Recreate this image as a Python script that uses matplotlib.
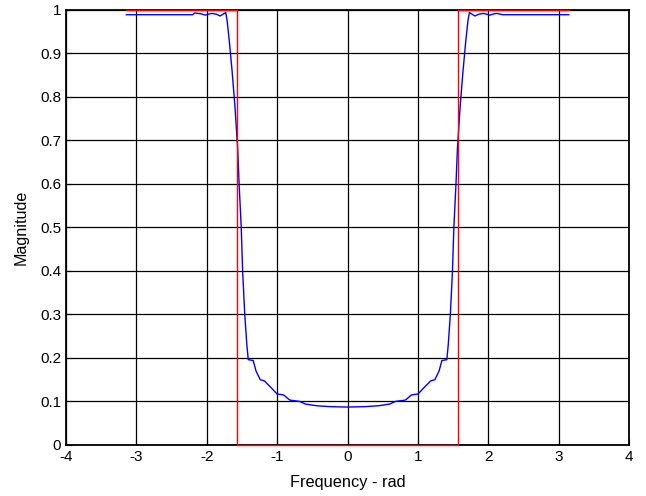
import numpy as np
import matplotlib
matplotlib.use("Agg")
import matplotlib.pyplot as plt

# Magnitude response (rad, magnitude)
freq = [-3.1416, -2.60, -2.20, -2.17, -2.12, -2.08, -2.02, -1.98, -1.93, -1.86,
        -1.81, -1.77, -1.73, -1.71, -1.68, -1.64, -1.60, -1.56, -1.54, -1.51,
        -1.49, -1.46, -1.43, -1.41, -1.34, -1.30, -1.24, -1.18, -1.10, -1.00,
        -0.91, -0.82, -0.68, -0.60, -0.44, -0.25, 0.0,
        0.25, 0.44, 0.60, 0.68, 0.82, 0.91, 1.00, 1.10, 1.18, 1.24, 1.30, 1.34,
        1.41, 1.43, 1.46, 1.49, 1.51, 1.54, 1.56, 1.60, 1.64, 1.68, 1.71, 1.73,
        1.77, 1.81, 1.86, 1.93, 1.98, 2.02, 2.08, 2.12, 2.20, 2.60, 3.1416]
mag = [0.989, 0.989, 0.989, 0.993, 0.992, 0.991, 0.988, 0.990, 0.992, 0.990,
       0.986, 0.990, 0.994, 0.975, 0.930, 0.860, 0.780, 0.680, 0.600, 0.500,
       0.400, 0.300, 0.230, 0.196, 0.194, 0.170, 0.150, 0.147, 0.134, 0.117,
       0.115, 0.103, 0.100, 0.094, 0.090, 0.088, 0.087,
       0.088, 0.090, 0.094, 0.100, 0.103, 0.115, 0.117, 0.134, 0.147, 0.150, 0.170, 0.194,
       0.196, 0.230, 0.300, 0.400, 0.500, 0.600, 0.680, 0.780, 0.860, 0.930, 0.975, 0.994,
       0.990, 0.986, 0.990, 0.992, 0.990, 0.988, 0.991, 0.992, 0.989, 0.989, 0.989]

# ideal high-pass response
ideal_x = [-np.pi, -np.pi / 2, -np.pi / 2, np.pi / 2, np.pi / 2, np.pi]
ideal_y = [1, 1, 0, 0, 1, 1]

xticks = [-4, -3, -2, -1, 0, 1, 2, 3, 4]
yticks = [0, 0.1, 0.2, 0.3, 0.4, 0.5, 0.6, 0.7, 0.8, 0.9, 1]
ytick_labels = ["0", "0.1", "0.2", "0.3", "0.4", "0.5", "0.6", "0.7", "0.8", "0.9", "1"]

plt.rcParams['font.family'] = ['Liberation Sans', 'DejaVu Sans']

fig = plt.figure(figsize=(6.46, 4.96), dpi=100)
ax = fig.add_axes([0.102, 0.103, 0.872, 0.877])

ax.plot(freq, mag, color='#0000ff', lw=1.0, zorder=3)
ax.plot(ideal_x, ideal_y, color='#ff0000', lw=1.0, zorder=4, clip_on=False)

ax.set_xlim(-4, 4)
ax.set_ylim(0, 1)
ax.set_xticks(xticks)
ax.set_xticklabels([str(t) for t in xticks])
ax.set_yticks(yticks)
ax.set_yticklabels(ytick_labels)
ax.grid(True, color='black', linestyle='-', lw=0.9)
ax.tick_params(direction='in', length=4, labelsize=11, width=0.8, pad=3.5)
for s in ax.spines.values():
    s.set_linewidth(1.3)

ax.set_xlabel('Frequency - rad', fontsize=11.8, labelpad=8)
ax.set_ylabel('Magnitude', fontsize=11.6, labelpad=8)

fig.savefig('out.png', dpi=100)
